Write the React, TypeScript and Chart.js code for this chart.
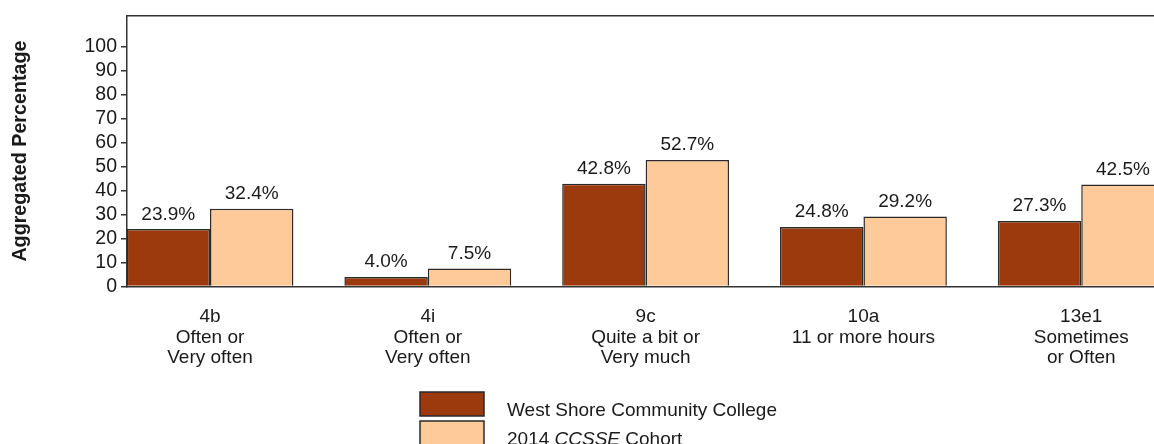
import React, { useEffect, useRef } from "react";
import { Chart, registerables } from "chart.js";

Chart.register(...registerables);

// ---------- data ----------
const categoryCodes = ["4b", "4i", "9c", "10a", "13e1"];
const categoryLines = [
  ["Often or", "Very often"],
  ["Often or", "Very often"],
  ["Quite a bit or", "Very much"],
  ["11 or more hours"],
  ["Sometimes", "or Often"],
];
const collegeValues = [23.9, 4.0, 42.8, 24.8, 27.3];
const cohortValues = [32.4, 7.5, 52.7, 29.2, 42.5];
const yTickValues = [0, 10, 20, 30, 40, 50, 60, 70, 80, 90, 100];
const seriesLabels = ["West Shore Community College", "2014 CCSSE Cohort"];
const italicWord = "CCSSE";
const yAxisTitle = "Aggregated Percentage";

// ---------- styles ----------
const FONT = "'Liberation Sans', Arial, sans-serif";
const TEXT = "#1a1a1a";
const AXIS = "#333333";
const DARK = "#9c3a0e";
const LIGHT = "#ffca99";
const BAR_BORDER = "#2a2a2a";

const valueLabelPlugin = {
  id: "valueLabels",
  afterDatasetsDraw(chart: any) {
    const { ctx } = chart;
    ctx.save();
    ctx.font = `19px ${FONT}`;
    ctx.fillStyle = TEXT;
    ctx.textAlign = "center";
    ctx.textBaseline = "alphabetic";
    chart.data.datasets.forEach((ds: any, di: number) => {
      const meta = chart.getDatasetMeta(di);
      meta.data.forEach((el: any, i: number) => {
        const v = ds.data[i].y;
        ctx.fillText(`${v.toFixed(1)}%`, el.x, el.y - 9.5);
      });
    });
    ctx.restore();
  },
};

const frameAndLegendPlugin = {
  id: "frameAndLegend",
  afterDraw(chart: any) {
    const { ctx, chartArea } = chart;
    ctx.save();
    // top frame line
    ctx.strokeStyle = AXIS;
    ctx.lineWidth = 1.5;
    ctx.beginPath();
    ctx.moveTo(chartArea.left, chartArea.top);
    ctx.lineTo(chartArea.right, chartArea.top);
    ctx.stroke();

    // legend (stacked vertically)
    const boxX = 420;
    const boxY = 392;
    const boxW = 64;
    const boxH = 24;
    const rowGap = 29;
    const textX = 507;
    chart.data.datasets.forEach((ds: any, i: number) => {
      const y = boxY + i * rowGap;
      ctx.fillStyle = ds.backgroundColor;
      ctx.fillRect(boxX, y, boxW, boxH);
      ctx.strokeStyle = BAR_BORDER;
      ctx.lineWidth = 1.5;
      ctx.strokeRect(boxX, y, boxW, boxH);

      ctx.fillStyle = TEXT;
      ctx.textAlign = "left";
      ctx.textBaseline = "alphabetic";
      const baseline = y + boxH;
      const label: string = ds.label;
      const idx = label.indexOf(italicWord);
      if (idx < 0) {
        ctx.font = `19px ${FONT}`;
        ctx.fillText(label, textX, baseline);
      } else {
        const parts = [
          { t: label.slice(0, idx), it: false },
          { t: italicWord, it: true },
          { t: label.slice(idx + italicWord.length), it: false },
        ];
        let x = textX;
        parts.forEach((p) => {
          ctx.font = `${p.it ? "italic " : ""}19px ${FONT}`;
          ctx.fillText(p.t, x, baseline);
          x += ctx.measureText(p.t).width;
        });
      }
    });
    ctx.restore();
  },
};

export default function App() {
  const canvasRef = useRef<HTMLCanvasElement | null>(null);

  useEffect(() => {
    if (!canvasRef.current) return;
    Chart.defaults.font.family = FONT;
    const chart = new Chart(canvasRef.current, {
      type: "bar",
      data: {
        datasets: [
          {
            label: seriesLabels[0],
            data: collegeValues.map((v, i) => ({ x: i, y: v })),
            backgroundColor: DARK,
            borderColor: BAR_BORDER,
            borderWidth: 1.5,
          },
          {
            label: seriesLabels[1],
            data: cohortValues.map((v, i) => ({ x: i, y: v })),
            backgroundColor: LIGHT,
            borderColor: BAR_BORDER,
            borderWidth: 1.5,
          },
        ],
      },
      options: {
        animation: false,
        responsive: true,
        maintainAspectRatio: false,
        events: [],
        layout: { padding: { left: 0, top: 13.3, right: 0, bottom: 76 } },
        categoryPercentage: 0.766,
        barPercentage: 1.0,
        plugins: {
          legend: { display: false },
          tooltip: { enabled: false },
        },
        scales: {
          x: {
            type: "linear",
            offset: false,
            min: -0.381,
            max: 4.334,
            afterBuildTicks: (scale: any) => {
              scale.ticks = categoryCodes.map((_, i) => ({ value: i }));
            },
            afterFit: (scale: any) => {
              scale.height = 81.5;
            },
            ticks: {
              autoSkip: false,
              maxRotation: 0,
              minRotation: 0,
              padding: 20,
              color: TEXT,
              font: { size: 19, lineHeight: 1.08 },
              callback: (value: any) => [categoryCodes[value], ...categoryLines[value]],
            },
            grid: { display: false, drawTicks: false, offset: false },
            border: { display: true, color: AXIS, width: 1.5 },
          },
          y: {
            type: "linear",
            min: 0,
            max: 112.8,
            afterBuildTicks: (scale: any) => {
              scale.ticks = yTickValues.map((v) => ({ value: v }));
            },
            afterFit: (scale: any) => {
              scale.width = 127;
            },
            ticks: {
              padding: 4,
              color: TEXT,
              font: { size: 19.5 },
            },
            grid: {
              display: true,
              drawOnChartArea: false,
              drawTicks: true,
              tickLength: 6,
              color: AXIS,
              lineWidth: 1.5,
            },
            border: { display: true, color: AXIS, width: 1.5 },
            title: {
              display: true,
              text: yAxisTitle,
              color: TEXT,
              font: { size: 19.7, weight: "bold", lineHeight: 1.2 },
              padding: { top: 8.3, bottom: 0 },
            },
          },
        },
      } as any,
      plugins: [valueLabelPlugin, frameAndLegendPlugin],
    });
    return () => chart.destroy();
  }, []);

  return (
    <div
      style={{
        position: "fixed",
        left: 0,
        top: 0,
        width: 1154,
        height: 444,
        overflow: "hidden",
        background: "#ffffff",
      }}
    >
      <canvas ref={canvasRef} />
    </div>
  );
}
